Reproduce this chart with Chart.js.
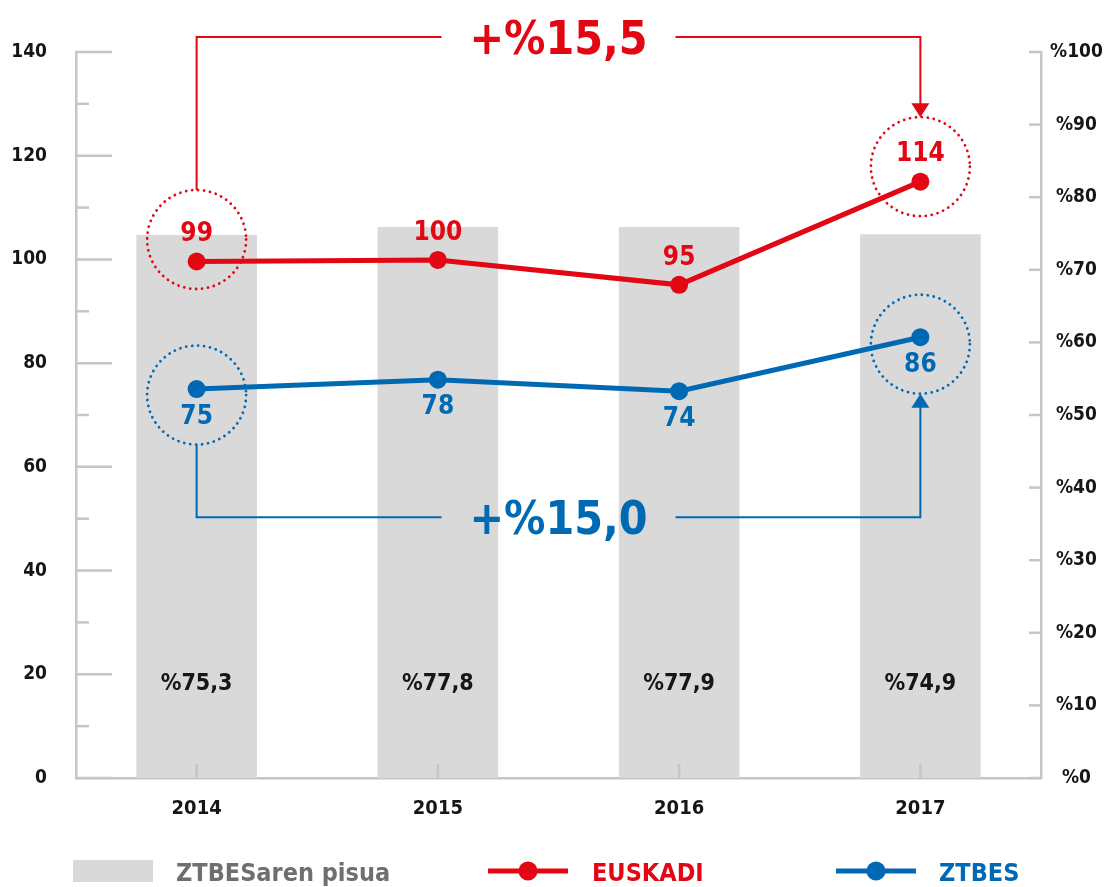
<!DOCTYPE html>
<html><head><meta charset="utf-8">
<script src="https://cdn.jsdelivr.net/npm/chart.js@4/dist/chart.umd.min.js"></script>
<style>html,body{margin:0;padding:0;background:#fff;}canvas{display:block;}</style>
</head><body>
<canvas id="c" width="1104" height="887"></canvas>
<script>
const years = ['2014', '2015', '2016', '2017'];
const shareValues = [74.8, 75.9, 75.9, 74.9];
const shareLabels = ['%75,3', '%77,8', '%77,9', '%74,9'];
const euskadiValues = [99.6, 99.9, 95.1, 115.0];
const euskadiLabels = ['99', '100', '95', '114'];
const ztbesValues = [75.0, 76.8, 74.6, 85.0];
const ztbesLabels = ['75', '78', '74', '86'];
const seriesNames = ['ZTBESaren pisua', 'EUSKADI', 'ZTBES'];
const euskadiChange = '+%15,5';
const ztbesChange = '+%15,0';

const RED = '#e30613', BLUE = '#0069b4', BAR = '#d9d9d9', AXIS = '#c6c6c6', INK = '#161616', LEG = '#6f6f6f';
const FONT = "'DejaVu Sans Condensed','Liberation Sans Narrow','DejaVu Sans',sans-serif";

function seg(ctx, x1, y1, x2, y2) { ctx.beginPath(); ctx.moveTo(x1, y1); ctx.lineTo(x2, y2); ctx.stroke(); }
function dotted(ctx, cx, cy, r, color) {
  ctx.save(); ctx.strokeStyle = color; ctx.lineWidth = 2.8; ctx.lineCap = 'round';
  ctx.setLineDash([0.01, 6]); ctx.beginPath(); ctx.arc(cx, cy, r, 0, Math.PI * 2); ctx.stroke(); ctx.restore();
}
function arrow(ctx, x, tipY, dir, color) {
  ctx.fillStyle = color; ctx.beginPath();
  ctx.moveTo(x, tipY); ctx.lineTo(x - 9, tipY - dir * 14); ctx.lineTo(x + 9, tipY - dir * 14); ctx.closePath(); ctx.fill();
}

const deco = {
  id: 'deco',
  afterDatasetsDraw(chart) {
    const { ctx, chartArea: a, scales: { x, y, y1 } } = chart;
    ctx.save();
    // axis ticks
    ctx.strokeStyle = AXIS; ctx.lineWidth = 2.5;
    y.ticks.forEach(t => { const py = y.getPixelForValue(t.value); seg(ctx, a.left, py, a.left + (t.value % 20 === 0 ? 36 : 13), py); });
    y1.ticks.forEach(t => { const py = y1.getPixelForValue(t.value); seg(ctx, a.right - 12, py, a.right, py); });
    years.forEach((_, i) => { const px = x.getPixelForValue(i); seg(ctx, px, a.bottom - 14, px, a.bottom); });

    // bar labels
    ctx.fillStyle = INK; ctx.font = `bold 23px ${FONT}`; ctx.textAlign = 'center'; ctx.textBaseline = 'middle';
    shareLabels.forEach((s, i) => ctx.fillText(s, x.getPixelForValue(i), a.bottom - 94));

    // point labels
    ctx.font = `bold 26px ${FONT}`;
    ctx.fillStyle = RED;
    euskadiLabels.forEach((s, i) => ctx.fillText(s, x.getPixelForValue(i), y.getPixelForValue(euskadiValues[i]) - 27));
    ctx.fillStyle = BLUE;
    ztbesLabels.forEach((s, i) => ctx.fillText(s, x.getPixelForValue(i), y.getPixelForValue(ztbesValues[i]) + 28));

    // dotted circles
    const R = 49.5;
    const x0 = x.getPixelForValue(0), x3 = x.getPixelForValue(3);
    const rc0 = y.getPixelForValue(euskadiValues[0]) - 22, rc3 = y.getPixelForValue(euskadiValues[3]) - 15;
    const bc0 = y.getPixelForValue(ztbesValues[0]) + 6, bc3 = y.getPixelForValue(ztbesValues[3]) + 7;
    dotted(ctx, x0, rc0, R, RED); dotted(ctx, x3, rc3, R, RED);
    dotted(ctx, x0, bc0, R, BLUE); dotted(ctx, x3, bc3, R, BLUE);

    // brackets
    const mid = (x0 + x3) / 2, gap = 117;
    ctx.lineWidth = 2; ctx.setLineDash([]);
    const ry = a.top - 15;
    ctx.strokeStyle = RED;
    ctx.beginPath(); ctx.moveTo(x0, rc0 - R); ctx.lineTo(x0, ry); ctx.lineTo(mid - gap, ry); ctx.stroke();
    ctx.beginPath(); ctx.moveTo(mid + gap, ry); ctx.lineTo(x3, ry); ctx.lineTo(x3, rc3 - R - 12); ctx.stroke();
    arrow(ctx, x3, rc3 - R, 1, RED);
    const by = y.getPixelForValue(50.3);
    ctx.strokeStyle = BLUE;
    ctx.beginPath(); ctx.moveTo(x0, bc0 + R); ctx.lineTo(x0, by); ctx.lineTo(mid - gap, by); ctx.stroke();
    ctx.beginPath(); ctx.moveTo(mid + gap, by); ctx.lineTo(x3, by); ctx.lineTo(x3, bc3 + R + 12); ctx.stroke();
    arrow(ctx, x3, bc3 + R, -1, BLUE);

    ctx.font = `bold 46px ${FONT}`; ctx.textAlign = 'center'; ctx.textBaseline = 'alphabetic';
    ctx.fillStyle = RED; ctx.fillText(euskadiChange, mid, ry + 17);
    ctx.fillStyle = BLUE; ctx.fillText(ztbesChange, mid, by + 17);

    // legend
    ctx.textAlign = 'left'; ctx.font = `bold 25px ${FONT}`;
    ctx.fillStyle = BAR; ctx.fillRect(73, 860, 80, 22);
    ctx.fillStyle = LEG; ctx.fillText(seriesNames[0], 176, 881);
    const legLine = (x1, color, label, tx) => {
      ctx.strokeStyle = color; ctx.lineWidth = 5; seg(ctx, x1, 871, x1 + 80, 871);
      ctx.fillStyle = color; ctx.beginPath(); ctx.arc(x1 + 40, 871, 9.5, 0, Math.PI * 2); ctx.fill();
      ctx.fillText(label, tx, 881);
    };
    legLine(488, RED, seriesNames[1], 592);
    legLine(836, BLUE, seriesNames[2], 939);
    ctx.restore();
  }
};

const tickFont = { family: FONT, size: 19, weight: 'bold' };
new Chart(document.getElementById('c'), {
  data: {
    labels: years,
    datasets: [
      { type: 'line', label: seriesNames[1], data: euskadiValues, yAxisID: 'y', borderColor: RED, backgroundColor: RED,
        borderWidth: 5, pointRadius: 9, pointHoverRadius: 9, pointBorderWidth: 0, pointBackgroundColor: RED, tension: 0, order: 1 },
      { type: 'line', label: seriesNames[2], data: ztbesValues, yAxisID: 'y', borderColor: BLUE, backgroundColor: BLUE,
        borderWidth: 5, pointRadius: 9, pointHoverRadius: 9, pointBorderWidth: 0, pointBackgroundColor: BLUE, tension: 0, order: 2 },
      { type: 'bar', label: seriesNames[0], data: shareValues, yAxisID: 'y1', backgroundColor: BAR,
        categoryPercentage: 1, barPercentage: 0.5, order: 3 }
    ]
  },
  options: {
    responsive: false, animation: false, devicePixelRatio: 1,
    layout: { padding: { top: 52, left: 0, right: 0, bottom: 0 } },
    plugins: { legend: { display: false }, tooltip: { enabled: false } },
    scales: {
      x: { grid: { display: false, drawTicks: false }, border: { display: true, color: AXIS, width: 2.5 },
        ticks: { font: { family: FONT, size: 20, weight: 'bold' }, color: INK, padding: 19 },
        afterFit(s) { s.height = 109; } },
      y: { position: 'left', min: 0, max: 140, grid: { display: false, drawTicks: false },
        border: { display: true, color: AXIS, width: 2.5 },
        ticks: { stepSize: 10, autoSkip: false, callback: v => (v % 20 === 0 ? v : ''), font: tickFont, color: INK, padding: 29 },
        afterFit(s) { s.width = 76; } },
      y1: { position: 'right', min: 0, max: 100, grid: { display: false, drawTicks: false },
        border: { display: true, color: AXIS, width: 2.5 },
        ticks: { stepSize: 10, autoSkip: false, callback: v => '%' + v, crossAlign: 'center', font: tickFont, color: INK, padding: 9 },
        afterFit(s) { s.width = 63; } }
    }
  },
  plugins: [deco]
});
</script>
</body></html>
